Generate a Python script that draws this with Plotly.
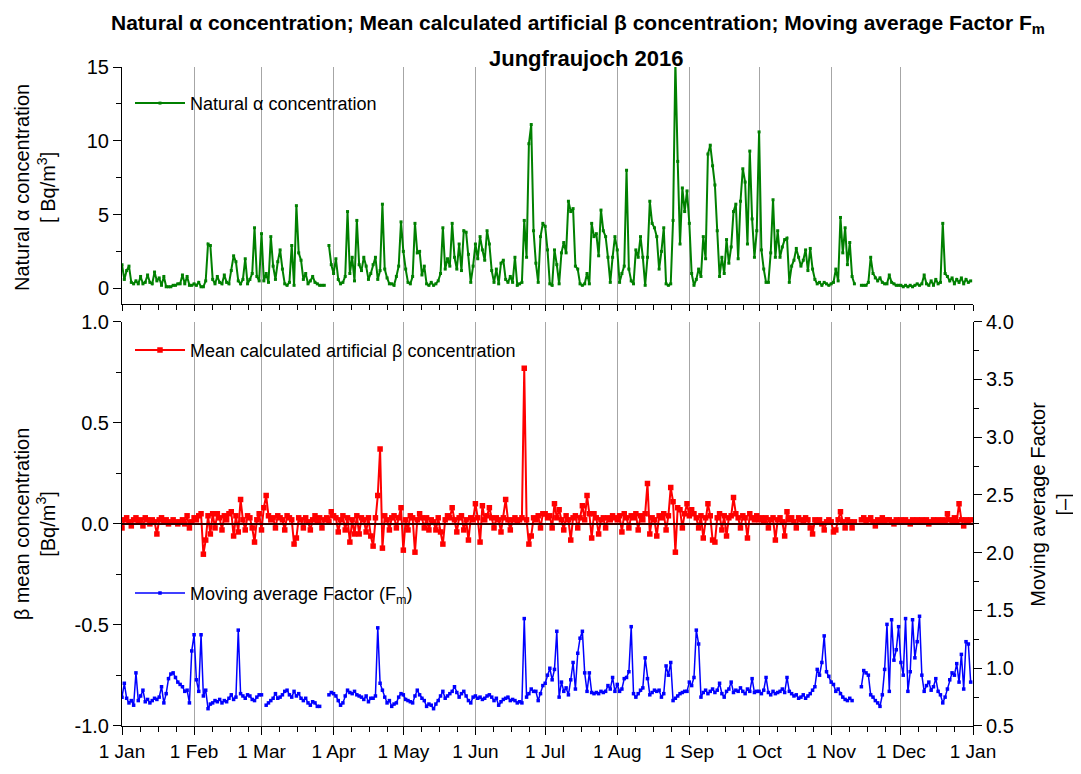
import pandas as pd
import plotly.graph_objects as go

# ---------------- data (daily values, 2016) ----------------
month_labels = ["1 Jan", "1 Feb", "1 Mar", "1 Apr", "1 May", "1 Jun", "1 Jul",
                "1 Aug", "1 Sep", "1 Oct", "1 Nov", "1 Dec", "1 Jan"]

alpha_jan = [1.6, 0.6, 1.2, 1.5, 0.4, 0.3, 0.5, 0.3, 0.8, 0.3, 0.4, 0.9, 0.4, 0.3, 1.1, 0.5,
             0.7, 0.2, 0.8, 0.1, 0.1, 0.1, 0.2, 0.2, 0.3, 0.3, 0.9, 0.3, 0.8, 0.2, 0.2]
alpha_feb = [0.3, 0.2, 0.4, 0.1, 0.1, 0.5, 3.0, 2.9, 0.6, 0.3, 0.8, 0.4, 0.3, 0.9, 0.4,
             0.3, 1.2, 2.2, 1.8, 0.5, 0.3, 0.6, 2.0, 0.3, 0.6, 1.0, 4.1, 0.8, 0.5]
alpha_mar = [3.7, 0.5, 1.0, 0.4, 3.5, 1.5, 0.6, 1.8, 2.6, 1.3, 0.3, 0.2, 0.4, 2.9, 0.2, 5.6,
             2.4, 1.9, 0.6, 1.0, 0.3, 0.5, 0.8, 0.4, 0.3, 0.2, 0.2, 0.2, None, 2.9, 1.6]
alpha_apr = [1.0, 2.0, 0.6, 0.3, 0.4, 0.8, 5.2, 1.0, 2.1, 0.5, 4.6, 1.6, 1.2, 2.1, 1.5,
             0.6, 1.0, 1.6, 2.1, 0.6, 1.2, 5.7, 1.3, 0.7, 0.3, 0.3, 0.2, 0.8, 1.5, 4.5]
alpha_may = [2.5, 1.3, 0.4, 0.3, 0.8, 4.4, 2.4, 2.5, 0.9, 1.5, 0.3, 0.2, 0.4, 0.2, 0.3, 0.5,
             1.0, 4.1, 1.3, 2.0, 1.5, 4.4, 2.1, 1.3, 3.0, 1.2, 3.9, 3.8, 2.3, 0.4, 1.5]
alpha_jun = [3.0, 2.0, 3.5, 2.6, 1.9, 3.9, 3.0, 1.2, 0.4, 1.3, 0.3, 1.7, 1.9, 0.6, 0.4,
             0.8, 0.4, 2.1, 0.2, 0.3, 0.4, 4.6, 2.1, 9.8, 11.1, 3.9, 1.7, 0.4, 3.5, 4.4]
alpha_jul = [4.2, 2.6, 0.3, 0.2, 2.6, 1.6, 0.3, 2.4, 3.1, 2.4, 5.9, 5.2, 5.4, 1.5, 1.3, 0.3,
             0.2, 0.3, 1.0, 0.3, 4.4, 3.5, 3.7, 2.2, 5.3, 3.9, 3.5, 2.1, 0.4, 2.1, 3.5]
alpha_aug = [2.6, 0.4, 1.0, 1.5, 8.0, 1.3, 0.5, 0.3, 2.6, 2.1, 3.5, 2.1, 0.2, 2.1, 5.9, 4.4,
             4.1, 3.5, 1.3, 2.5, 4.1, 0.3, 0.2, 0.3, 4.6, 15.4, 8.6, 3.0, 6.8, 5.2, 6.6]
alpha_sep = [4.4, 1.0, 0.2, 0.6, 1.3, 0.8, 3.5, 2.0, 9.1, 9.7, 8.3, 7.0, 3.9, 0.8, 2.1,
             1.0, 3.3, 1.7, 2.8, 5.2, 5.7, 2.0, 5.9, 8.1, 7.2, 3.0, 9.3, 4.7, 2.1, 3.9]
alpha_oct = [10.6, 2.6, 1.3, 0.4, 0.4, 2.4, 6.0, 2.1, 3.9, 2.1, 2.8, 3.3, 3.4, 0.4, 1.5, 1.9,
             2.7, 2.1, 1.5, 1.9, 2.6, 1.2, 2.7, 1.3, 0.6, 0.3, 0.4, 0.2, 0.4, 0.3, 0.2]
alpha_nov = [0.3, 0.4, 1.3, 0.5, 4.8, 2.4, 4.1, 1.6, 3.1, 0.8, 0.3, None, None, 0.2, 0.2,
             0.2, 0.4, 2.1, 1.0, 0.7, 0.5, 0.7, 0.4, 0.3, 0.3, 0.9, 0.4, 0.3, 0.2, 0.2]
alpha_dec = [0.2, 0.1, 0.2, 0.1, 0.2, 0.1, 0.2, 0.3, 0.2, 0.3, 0.9, 0.3, 0.2, 0.5, 0.2, 0.6,
             0.3, 0.4, 4.4, 1.0, 0.8, 0.5, 0.7, 0.3, 0.6, 0.4, 0.7, 0.3, 0.6, 0.4, 0.5]

beta_jan = [-0.02, 0.02, 0.03, 0.01, -0.01, 0.02, 0.03, 0.01, 0.02, -0.01, 0.03, 0.02, 0.00, 0.02,
            0.01, -0.05, 0.02, 0.03, 0.01, 0.02, 0.00, 0.01, 0.02, 0.01, 0.00, 0.01, 0.02, 0.00,
            0.04, -0.02, 0.01]
beta_feb = [0.03, 0.02, 0.04, 0.05, -0.15, -0.08, 0.04, -0.05, 0.05, -0.02, 0.05, 0.03, -0.03,
            0.04, 0.02, 0.05, 0.06, -0.06, 0.04, -0.04, 0.12, 0.02, -0.03, 0.04, 0.03, -0.02,
            -0.09, 0.02, 0.05]
beta_mar = [-0.03, 0.08, 0.14, 0.04, 0.02, 0.03, -0.02, 0.04, 0.03, 0.02, -0.03, 0.04, 0.03, 0.02,
            -0.10, -0.07, 0.03, 0.02, -0.02, 0.03, 0.01, -0.03, 0.02, 0.04, 0.01, 0.03, -0.02,
            0.02, 0.03, 0.01, 0.06]
beta_apr = [0.04, 0.03, -0.04, 0.02, 0.04, -0.03, 0.03, -0.09, 0.02, -0.05, 0.04, -0.05, 0.03,
            0.02, -0.04, 0.03, -0.06, -0.11, 0.03, 0.14, 0.37, -0.12, 0.04, 0.02, -0.03, 0.03,
            0.04, -0.02, 0.03, 0.08]
beta_may = [-0.13, 0.02, -0.03, 0.04, 0.03, -0.14, 0.02, 0.05, 0.03, -0.02, 0.03, -0.03, 0.02,
            0.01, -0.03, 0.03, -0.04, -0.10, 0.02, 0.04, 0.03, 0.08, 0.02, -0.04, 0.03, 0.04,
            -0.03, 0.02, -0.08, 0.03, 0.02]
beta_jun = [0.10, 0.03, -0.09, 0.09, 0.02, 0.04, 0.08, 0.03, -0.02, 0.03, 0.02, -0.04, 0.03,
            0.12, 0.02, -0.03, 0.02, 0.03, 0.01, 0.02, 0.03, 0.77, 0.02, -0.10, -0.06, 0.03,
            0.02, 0.04, -0.02, 0.05]
beta_jul = [0.05, 0.03, 0.04, -0.02, 0.10, 0.03, 0.07, 0.02, -0.03, 0.04, 0.02, -0.08, 0.03,
            0.04, -0.02, 0.03, 0.09, 0.02, 0.14, 0.05, -0.07, 0.05, 0.03, -0.05, 0.02, 0.03,
            -0.02, 0.03, 0.02, 0.04, 0.03]
beta_aug = [0.02, 0.04, -0.04, 0.05, 0.03, -0.02, 0.04, 0.03, 0.05, -0.03, 0.04, 0.02, 0.05,
            0.20, -0.05, 0.03, 0.02, -0.06, 0.04, 0.03, 0.05, -0.03, 0.04, 0.18, 0.11, -0.14,
            0.08, 0.07, -0.02, 0.05, 0.10]
beta_sep = [0.04, 0.07, 0.05, 0.03, -0.02, 0.04, -0.07, 0.03, 0.10, 0.04, -0.08, -0.09, 0.03,
            0.05, -0.03, 0.04, -0.06, 0.03, 0.04, 0.13, 0.05, 0.03, -0.02, 0.04, 0.03, -0.07,
            0.05, 0.03, 0.02, 0.04]
beta_oct = [0.02, 0.03, 0.01, 0.03, -0.02, 0.02, 0.03, -0.08, 0.02, 0.03, 0.01, -0.06, 0.06,
            0.02, 0.03, 0.01, -0.02, 0.03, 0.02, 0.01, 0.03, 0.02, -0.02, -0.05, 0.02, 0.01,
            0.02, 0.00, -0.03, 0.01, 0.02]
beta_nov = [0.01, -0.04, -0.03, 0.02, 0.06, 0.01, -0.02, 0.02, 0.01, -0.02, 0.01, None, None,
            0.02, 0.03, 0.01, 0.02, 0.03, 0.01, -0.01, 0.02, 0.01, 0.03, 0.01, 0.02, 0.02,
            0.01, 0.00, 0.02, 0.01]
beta_dec = [0.02, 0.01, 0.02, 0.01, 0.00, 0.02, 0.01, 0.02, 0.01, 0.02, 0.01, 0.02, 0.00, 0.01,
            0.02, 0.01, 0.02, 0.01, 0.02, 0.01, 0.05, 0.02, 0.01, 0.03, 0.01, 0.10, 0.02, -0.01,
            0.02, 0.01, 0.02]

fm_jan = [0.75, 0.87, 0.74, 0.70, 0.72, 0.68, 0.96, 0.72, 0.76, 0.81, 0.71, 0.73, 0.70, 0.72,
          0.74, 0.73, 0.75, 0.84, 0.70, 0.78, 0.91, 0.95, 0.96, 0.92, 0.88, 0.86, 0.84, 0.80,
          0.81, 0.70, 1.15]
fm_feb = [1.29, 0.90, 0.80, 1.29, 0.76, 0.81, 0.65, 0.69, 0.70, 0.72, 0.71, 0.73, 0.70, 0.72,
          0.71, 0.74, 0.77, 0.73, 0.75, 1.33, 0.78, 0.76, 0.74, 0.77, 0.76, 0.73, 0.72, 0.75,
          0.77]
fm_mar = [0.77, None, 0.68, 0.70, 0.72, 0.74, 0.78, 0.74, 0.75, 0.77, 0.80, 0.81, 0.77, 0.75,
          0.80, 0.76, 0.78, 0.74, 0.72, 0.74, 0.70, 0.68, 0.71, 0.70, 0.67, 0.67, None, None,
          None, 0.77, 0.79]
fm_apr = [0.78, 0.76, 0.72, 0.68, 0.70, 0.76, 0.81, 0.79, 0.78, 0.80, 0.77, 0.76, 0.75, 0.73,
          0.76, 0.71, 0.74, 0.74, 0.76, 1.35, 0.87, 0.81, 0.75, 0.70, 0.72, 0.67, 0.69, 0.70,
          0.75, 0.78]
fm_may = [0.77, 0.73, 0.72, 0.71, 0.70, 0.76, 0.81, 0.77, 0.74, 0.72, 0.67, 0.69, 0.68, 0.65,
          0.69, 0.72, 0.76, 0.80, 0.74, 0.76, 0.78, 0.80, 0.84, 0.79, 0.75, 0.78, 0.80, 0.76,
          0.72, 0.70, 0.75]
fm_jun = [0.76, 0.74, 0.75, 0.73, 0.74, 0.76, 0.77, 0.75, 0.72, 0.74, 0.68, 0.71, 0.73, 0.74,
          0.75, 0.72, 0.73, 0.72, 0.70, 0.71, 0.70, 1.43, 0.75, 0.78, 0.82, 0.80, 0.80, 0.72,
          0.78, 0.85]
fm_jul = [0.87, 0.94, 1.00, 0.90, 0.99, 1.32, 0.75, 0.88, 0.80, 0.83, 0.77, 0.90, 1.05, 0.82,
          1.13, 1.26, 1.32, 0.96, 0.80, 0.96, 0.79, 0.78, 0.79, 0.78, 0.80, 0.79, 0.80, 0.85,
          0.82, 0.92, 0.80]
fm_aug = [0.86, 0.80, 0.82, 0.91, 0.92, 0.97, 1.36, 0.78, 0.75, 0.78, 0.81, 0.83, 1.09, 0.91,
          0.77, 0.79, 0.81, 0.80, 0.81, 0.75, 0.78, 1.02, 0.94, 1.05, 0.72, 0.74, 0.76, 0.78,
          0.79, 0.80, 0.80]
fm_sep = [0.88, 0.85, 0.92, 1.33, 1.21, 0.75, 0.79, 0.81, 0.78, 0.80, 0.82, 0.79, 0.81, 0.87,
          0.78, 0.75, 0.80, 0.82, 0.88, 0.79, 0.81, 0.80, 0.83, 0.80, 0.78, 0.82, 0.80, 0.91,
          0.79, 0.80]
fm_oct = [0.80, 0.78, 0.81, 0.92, 0.79, 0.77, 0.80, 0.78, 0.79, 0.80, 0.82, 0.79, 0.92, 0.80,
          0.78, 0.76, 0.77, 0.74, 0.75, 0.77, 0.74, 0.76, 0.78, 0.81, 0.84, 0.99, 0.94, 1.05,
          1.28, 0.97, 0.93]
fm_nov = [0.88, 0.86, 0.80, 0.82, 0.78, 0.75, 0.73, 0.72, 0.74, 0.72, None, None, None, 0.84,
          0.98, 0.96, 0.94, 0.77, 0.75, 0.72, 0.70, 0.67, 0.77, 0.99, 1.38, 0.80, 1.42, 1.07,
          1.16, 1.36]
fm_dec = [1.05, 0.94, 1.43, 0.80, 0.97, 1.42, 1.09, 1.23, 1.45, 0.94, 0.80, 0.85, 0.88, 0.81,
          0.84, 0.91, 0.80, 0.77, 0.70, 0.75, 0.82, 0.90, 0.96, 0.94, 1.04, 0.88, 1.12, 0.82,
          1.23, 1.21, 0.88]

alpha = (alpha_jan + alpha_feb + alpha_mar + alpha_apr + alpha_may + alpha_jun +
         alpha_jul + alpha_aug + alpha_sep + alpha_oct + alpha_nov + alpha_dec)
beta = (beta_jan + beta_feb + beta_mar + beta_apr + beta_may + beta_jun +
        beta_jul + beta_aug + beta_sep + beta_oct + beta_nov + beta_dec)
fm = (fm_jan + fm_feb + fm_mar + fm_apr + fm_may + fm_jun +
      fm_jul + fm_aug + fm_sep + fm_oct + fm_nov + fm_dec)

dates = pd.date_range("2016-01-01", periods=len(alpha), freq="D")

# ---------------- axis helpers ----------------
month_starts = pd.date_range("2016-01-01", "2017-01-01", freq="MS")
minor_x = []
for m in month_starts[:-1]:
    for off in (7.75, 15.5, 23.25):
        minor_x.append(m + pd.Timedelta(hours=off * 24))
x_range = [month_starts[0], month_starts[-1]]

FONT = "Liberation Sans, Arial, sans-serif"
GRID = "#a6a6a6"

# page offset (browser body margin) is 8 px; figure placed to match window pixels
W, H = 1073, 766
ML, MR, MT, MB = 114, 108, 59, 37
PW, PH = W - ML - MR, H - MT - MB   # 851 x 670


def px(xw):   # window pixel x -> paper x
    return (xw - 8 - ML) / PW


def py(yw):   # window pixel y -> paper y
    return (H - MB - (yw - 8)) / PH


common_x = dict(
    range=x_range, tickmode="array", tickvals=list(month_starts),
    showgrid=True, gridcolor=GRID, gridwidth=1,
    showline=True, linecolor="black", linewidth=1,
    ticks="outside", tickcolor="black", ticklen=7, tickwidth=1,
    zeroline=False,
    minor=dict(tickmode="array", tickvals=minor_x, ticks="outside",
               ticklen=5, tickcolor="black", showgrid=False),
)

fig = go.Figure()
fig.add_trace(go.Scatter(
    x=dates, y=alpha, mode="lines+markers", name="Natural α concentration",
    line=dict(color="#008000", width=2),
    marker=dict(symbol="square", size=3, color="#008000"),
    xaxis="x", yaxis="y", legend="legend", connectgaps=False))
fig.add_trace(go.Scatter(
    x=dates, y=beta, mode="lines+markers",
    name="Mean calculated artificial β concentration",
    line=dict(color="#ff0000", width=2),
    marker=dict(symbol="square", size=5.5, color="#ff0000"),
    xaxis="x2", yaxis="y2", legend="legend2", connectgaps=False))
fig.add_trace(go.Scatter(
    x=dates, y=fm, mode="lines+markers",
    name="Moving average Factor (F<sub>m</sub>)",
    line=dict(color="#0000ff", width=1.5),
    marker=dict(symbol="square", size=3.5, color="#0000ff"),
    xaxis="x2", yaxis="y3", legend="legend3", connectgaps=False))

# zero reference line of beta axis (drawn above traces)
fig.add_shape(type="line", xref="x2 domain", yref="y2", x0=0, x1=1, y0=0, y1=0,
              line=dict(color="#300000", width=2), layer="above")

top_dom = [(737 - 308) / 670, 1.0]
bot_dom = [0.0, (737 - 326) / 670]

fig.update_layout(
    width=W, height=H,
    margin=dict(l=ML, r=MR, t=MT, b=MB),
    paper_bgcolor="white", plot_bgcolor="white",
    font=dict(family=FONT, size=19, color="black"),
    xaxis=dict(common_x, domain=[0, 1], anchor="y", showticklabels=False,
               matches="x2", ticklen=6),
    xaxis2=dict(common_x, domain=[0, 1], anchor="y2", ticktext=month_labels,
                tickfont=dict(size=19), ticklen=8),
    yaxis=dict(domain=top_dom, anchor="x", range=[-1.07, 15],
               tickmode="array", tickvals=[0, 5, 10, 15],
               showline=True, linecolor="black", linewidth=1,
               ticks="outside", ticklen=8, tickcolor="black",
               showgrid=False, zeroline=False, tickfont=dict(size=20),
               minor=dict(tickmode="array", tickvals=[2.5, 7.5, 12.5],
                          ticks="outside", ticklen=5, tickcolor="black")),
    yaxis2=dict(domain=bot_dom, anchor="x2", range=[-1, 1],
                tickmode="array", tickvals=[-1, -0.5, 0, 0.5, 1],
                ticktext=["-1.0", "-0.5", "0.0", "0.5", "1.0"],
                showline=True, linecolor="black", linewidth=1,
                ticks="outside", ticklen=8, tickcolor="black",
                showgrid=False, zeroline=False, tickfont=dict(size=20),
                minor=dict(tickmode="array", tickvals=[-0.75, -0.25, 0.25, 0.75],
                           ticks="outside", ticklen=5, tickcolor="black")),
    yaxis3=dict(overlaying="y2", side="right", anchor="x2", range=[0.5, 4.0],
                tickmode="array", tickvals=[0.5, 1.0, 1.5, 2.0, 2.5, 3.0, 3.5, 4.0],
                ticktext=["0.5", "1.0", "1.5", "2.0", "2.5", "3.0", "3.5", "4.0"],
                showline=True, linecolor="black", linewidth=1,
                ticks="outside", ticklen=8, tickcolor="black",
                showgrid=False, zeroline=False, tickfont=dict(size=20),
                minor=dict(tickmode="array",
                           tickvals=[0.75, 1.25, 1.75, 2.25, 2.75, 3.25, 3.75],
                           ticks="outside", ticklen=5, tickcolor="black")),
    legend=dict(x=px(130), y=py(104), xanchor="left", yanchor="middle",
                bgcolor="rgba(0,0,0,0)", font=dict(size=18), itemwidth=50),
    legend2=dict(x=px(130), y=py(355), xanchor="left", yanchor="middle",
                 bgcolor="rgba(0,0,0,0)", font=dict(size=18), itemwidth=50),
    legend3=dict(x=px(130), y=py(602), xanchor="left", yanchor="middle",
                 bgcolor="rgba(0,0,0,0)", font=dict(size=18), itemwidth=50),
    showlegend=True,
)

annotations = [
    dict(text="<b>Natural α concentration; Mean calculated artificial β concentration; "
              "Moving average Factor F<sub>m</sub></b>",
         x=px(578), y=py(23), xref="paper", yref="paper",
         xanchor="center", yanchor="middle", showarrow=False,
         font=dict(size=21)),
    dict(text="<b>Jungfraujoch 2016</b>",
         x=px(586), y=py(58), xref="paper", yref="paper",
         xanchor="center", yanchor="middle", showarrow=False,
         font=dict(size=22)),
    dict(text="Natural α concentration<br>[ Bq/m<sup>3</sup>]",
         x=px(35), y=py(190), xref="paper", yref="paper",
         xanchor="center", yanchor="middle", textangle=-90, showarrow=False,
         font=dict(size=20)),
    dict(text="β mean concentration<br>[Bq/m<sup>3</sup>]",
         x=px(35), y=py(532), xref="paper", yref="paper",
         xanchor="center", yanchor="middle", textangle=-90, showarrow=False,
         font=dict(size=20)),
    dict(text="Moving average Factor<br>[–]",
         x=px(1051), y=py(512), xref="paper", yref="paper",
         xanchor="center", yanchor="middle", textangle=-90, showarrow=False,
         font=dict(size=20)),
]
fig.update_layout(annotations=annotations)

fig.write_html("out.html")
